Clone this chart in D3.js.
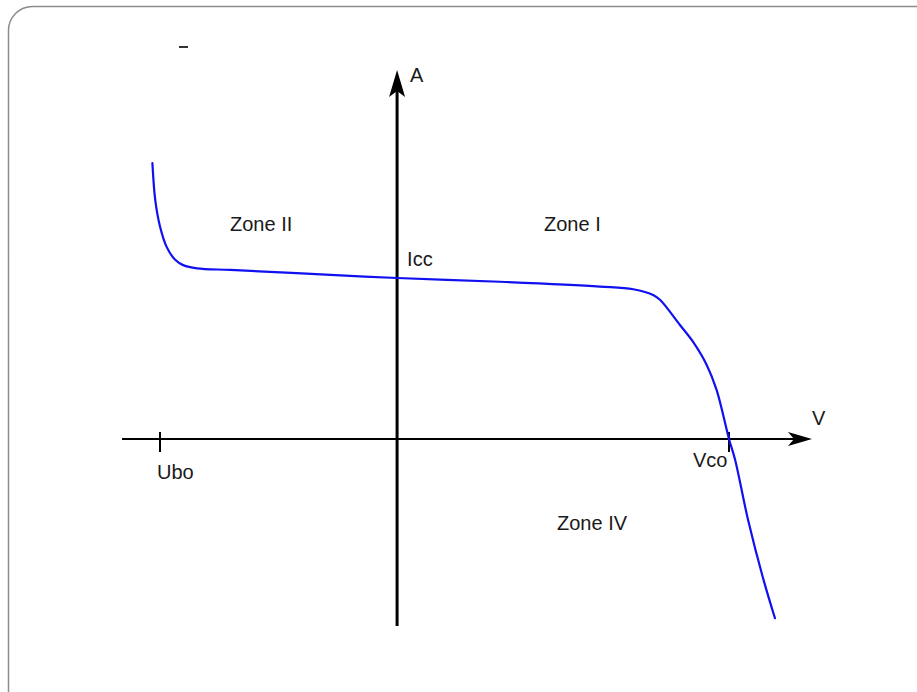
<!DOCTYPE html>
<html>
<head>
<meta charset="utf-8">
<script src="https://cdn.jsdelivr.net/npm/d3@7"></script>
<style>
  html, body { margin: 0; padding: 0; background: #fff; }
  svg { display: block; }
  text { font-family: "Liberation Sans", Arial, sans-serif; fill: #1a1a1a; }
</style>
</head>
<body>
<svg id="chart" width="917" height="692"></svg>
<script>
// I–V characteristic of a photovoltaic cell (voltage in V, current in A)
const voltage = [-0.516, -0.510, -0.500, -0.486, -0.468, -0.451, -0.422, -0.352, -0.212, 0.000,
                 0.217, 0.428, 0.498, 0.541, 0.555, 0.597, 0.625, 0.653, 0.674, 0.700, 0.713, 0.740, 0.773, 0.797];
const current = [5.14, 4.45, 3.96, 3.58, 3.34, 3.24, 3.18, 3.15, 3.09, 3.00,
                 2.93, 2.84, 2.79, 2.68, 2.59, 2.12, 1.80, 1.38, 0.91, 0.00, -0.39, -1.50, -2.63, -3.34];

// Characteristic points on the axes
const Ubo = -0.5;   // reverse breakdown voltage
const Vco = 0.7;    // open-circuit voltage
const Icc = 3.0;    // short-circuit current

const zoneLabels = ["Zone II", "Zone I", "Zone IV"];
const axisLabels = ["A", "V"];
const pointLabels = ["Icc", "Ubo", "Vco"];

const svg = d3.select("#chart");

const x = d3.scaleLinear().domain([Ubo, Vco]).range([160, 729]);
const y = d3.scaleLinear().domain([0, Icc]).range([439, 278]);

// slide frame
svg.append("rect")
  .attr("x", 8.5).attr("y", 6.5)
  .attr("width", 930).attr("height", 710)
  .attr("rx", 24).attr("ry", 24)
  .attr("fill", "none")
  .attr("stroke", "#8c8c8c")
  .attr("stroke-width", 1.5);

// small dash near the top
svg.append("line")
  .attr("x1", 179).attr("x2", 188)
  .attr("y1", 47).attr("y2", 47)
  .attr("stroke", "#333").attr("stroke-width", 2);

const x0 = x(0), y0 = y(0);

// horizontal (voltage) axis
svg.append("line")
  .attr("x1", 122).attr("x2", 800)
  .attr("y1", y0).attr("y2", y0)
  .attr("stroke", "#000").attr("stroke-width", 2);
svg.append("path")
  .attr("d", `M${812},${y0} L${788},${y0 - 7} L${794},${y0} L${788},${y0 + 7} Z`)
  .attr("fill", "#000");

// vertical (current) axis
svg.append("line")
  .attr("x1", x0).attr("x2", x0)
  .attr("y1", 626).attr("y2", 85)
  .attr("stroke", "#000").attr("stroke-width", 3);
svg.append("path")
  .attr("d", `M${x0},${70} L${x0 - 8},${97} L${x0},${91} L${x0 + 8},${97} Z`)
  .attr("fill", "#000");

// ticks for Ubo and Vco
[Ubo, Vco].forEach(v => {
  svg.append("line")
    .attr("x1", x(v)).attr("x2", x(v))
    .attr("y1", y0 - 7).attr("y2", y0 + 13)
    .attr("stroke", "#000").attr("stroke-width", 2);
});

// I–V curve
const pts = voltage.map((v, i) => [v, current[i]]);
svg.append("path")
  .datum(pts)
  .attr("d", d3.line().x(d => x(d[0])).y(d => y(d[1])).curve(d3.curveCatmullRom.alpha(0.5)))
  .attr("fill", "none")
  .attr("stroke", "#1010f0")
  .attr("stroke-width", 2.2)
  .attr("stroke-linecap", "round");

const fs = 20;
const label = (t, px, py) => svg.append("text")
  .attr("x", px).attr("y", py)
  .attr("font-size", fs)
  .text(t);

label(axisLabels[0], x0 + 13, 82);
label(axisLabels[1], 812, 425);
label(pointLabels[0], x0 + 10, y(Icc) - 12);
label(pointLabels[1], x(Ubo) - 3, 479);
label(pointLabels[2], x(Vco) - 36, 467);
label(zoneLabels[0], 230, 231);
label(zoneLabels[1], 544, 231);
label(zoneLabels[2], 557, 530);
</script>
</body>
</html>
